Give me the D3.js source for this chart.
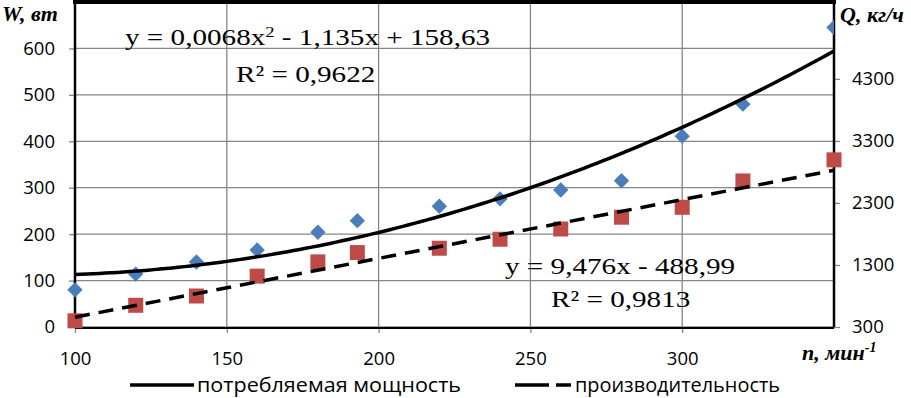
<!DOCTYPE html>
<html>
<head>
<meta charset="utf-8">
<script src="https://cdn.jsdelivr.net/npm/d3@7"></script>
<style>
  html, body { margin: 0; padding: 0; background: #fff; }
  svg { display: block; }
  .tick text { font-family: "Open Sans", "Noto Sans", sans-serif; font-size: 18.5px; fill: #000; }
  .eq { font-family: "Liberation Serif", "DejaVu Serif", serif; font-size: 23.5px; fill: #000; }
  .ttl { font-family: "Liberation Serif", serif; font-size: 22px; font-weight: bold; font-style: italic; fill: #000; }
  .leg { font-family: "Open Sans", "Noto Sans", sans-serif; font-size: 20.5px; fill: #000; }
</style>
</head>
<body>
<div id="chart"></div>
<script>
!(function(){
    "use strict"

    // обороты, мин-1
    var rpm = [100, 120, 140, 160, 180, 193, 220, 240, 260, 280, 300, 320, 350]
    // потребляемая мощность W, вт
    var power = [80, 114, 140, 166, 204, 229, 260, 276, 295, 315, 411, 480, 645]
    // производительность Q, кг/ч
    var output = [400, 650, 800, 1120, 1350, 1500, 1570, 1715, 1880, 2070, 2230, 2655, 2995]

    var xTicks = [100, 150, 200, 250, 300]
    var wTicks = [0, 100, 200, 300, 400, 500, 600]
    var qTicks = [300, 1300, 2300, 3300, 4300]

    // trendline coefficients as printed on the chart
    var polyCoef = [0.0068, -1.135, 158.63]
    var linCoef = [9.476, -488.99]

    var width = 911, height = 398
    var margin = {top: 2, left: 75, bottom: 71, right: 77}
    var chartWidth = width - margin.left - margin.right
    var chartHeight = height - margin.top - margin.bottom

    var svg = d3.select("#chart").append("svg")
        .attr("width", width).attr("height", height)

    var chartLayer = svg.append("g")
        .attr("transform", "translate(" + [margin.left, margin.top] + ")")

    var x = d3.scaleLinear().domain([100, 350]).range([0, chartWidth])
    var yW = d3.scaleLinear().domain([0, 700]).range([chartHeight, 0])
    var yQ = d3.scaleLinear().domain([300, 5540]).range([chartHeight, 0])

    // grid
    chartLayer.append("g")
        .selectAll("line").data(wTicks.concat([700])).enter().append("line")
        .attr("x1", 0).attr("x2", chartWidth)
        .attr("y1", function(d){ return yW(d) }).attr("y2", function(d){ return yW(d) })
        .attr("stroke", "#868686").attr("stroke-width", 1.3)

    chartLayer.append("g")
        .selectAll("line").data(xTicks.slice(1)).enter().append("line")
        .attr("x1", function(d){ return x(d) }).attr("x2", function(d){ return x(d) })
        .attr("y1", 0).attr("y2", chartHeight)
        .attr("stroke", "#868686").attr("stroke-width", 1.3)

    // axes
    var leftAxis = chartLayer.append("g")
        .call(d3.axisLeft(yW).tickValues(wTicks).tickSize(6).tickPadding(14))
    var rightAxis = chartLayer.append("g")
        .attr("transform", "translate(" + chartWidth + ",0)")
        .call(d3.axisRight(yQ).tickValues(qTicks).tickFormat(d3.format("d")).tickSize(6).tickPadding(12))
    var bottomAxis = chartLayer.append("g")
        .attr("transform", "translate(0," + chartHeight + ")")
        .call(d3.axisBottom(x).tickValues(xTicks).tickSize(6).tickPadding(19))

    ;[leftAxis, rightAxis, bottomAxis].forEach(function(a){
        a.select(".domain").remove()
        a.selectAll(".tick line").attr("stroke", "#868686").attr("stroke-width", 1.3)
    })

    // frame lines
    chartLayer.append("line").attr("x1", 0).attr("x2", 0).attr("y1", 0).attr("y2", chartHeight)
        .attr("stroke", "#000").attr("stroke-width", 2.5)
    chartLayer.append("line").attr("x1", chartWidth).attr("x2", chartWidth).attr("y1", 0).attr("y2", chartHeight)
        .attr("stroke", "#000").attr("stroke-width", 2.5)
    chartLayer.append("line").attr("x1", 0).attr("x2", chartWidth).attr("y1", chartHeight + 1).attr("y2", chartHeight + 1)
        .attr("stroke", "#000").attr("stroke-width", 2)
    chartLayer.append("line").attr("x1", -2).attr("x2", chartWidth + 2).attr("y1", 0).attr("y2", 0)
        .attr("stroke", "#000").attr("stroke-width", 4)

    // markers
    svg.append("clipPath").attr("id", "plotClip")
        .append("rect").attr("x", -20).attr("y", -2).attr("width", chartWidth + 20).attr("height", chartHeight + 30)

    chartLayer.append("g").attr("clip-path", "url(#plotClip)")
        .selectAll("path").data(rpm).enter().append("path")
        .attr("d", d3.symbol().type(d3.symbolDiamond2).size(150))
        .attr("transform", function(d, i){ return "translate(" + [x(d), yW(power[i])] + ")" })
        .attr("fill", "#4A7EBB")

    chartLayer.append("g")
        .selectAll("rect").data(rpm).enter().append("rect")
        .attr("x", function(d){ return x(d) - 7.5 })
        .attr("y", function(d, i){ return yQ(output[i]) - 7.5 })
        .attr("width", 15).attr("height", 15)
        .attr("fill", "#BE4B48")

    // trendlines
    var xs = d3.range(100, 351, 2)
    var poly = d3.line()
        .x(function(d){ return x(d) })
        .y(function(d){ return yW(polyCoef[0]*d*d + polyCoef[1]*d + polyCoef[2]) })
    var lin = d3.line()
        .x(function(d){ return x(d) })
        .y(function(d){ return yQ(linCoef[0]*d + linCoef[1]) })

    chartLayer.append("path").datum(xs).attr("d", poly)
        .attr("fill", "none").attr("stroke", "#000").attr("stroke-width", 3.5)
    chartLayer.append("path").datum([100, 350]).attr("d", lin)
        .attr("fill", "none").attr("stroke", "#000").attr("stroke-width", 3.5)
        .attr("stroke-dasharray", "15,9")

    // equations (stretched a little, as in the original picture)
    function eqText(px, py) {
        return svg.append("text").attr("class", "eq")
            .attr("transform", "translate(" + [px, py] + ") scale(1.24,1)")
    }
    var eq1 = eqText(125, 45)
    eq1.append("tspan").text("y = 0,0068x")
    eq1.append("tspan").attr("dy", -8).attr("font-size", 15).text("2")
    eq1.append("tspan").attr("dy", 8).text(" - 1,135x + 158,63")
    eqText(236, 82).text("R² = 0,9622")
    eqText(505, 274).text("y = 9,476x - 488,99")
    eqText(551, 307).text("R² = 0,9813")

    // axis titles
    svg.append("text").attr("class", "ttl").attr("x", 2).attr("y", 21).attr("font-size", 21).text("W, вт")
    svg.append("text").attr("class", "ttl").attr("x", 840).attr("y", 22).text("Q, кг/ч")
    var nt = svg.append("text").attr("class", "ttl").attr("x", 802).attr("y", 360)
    nt.append("tspan").text("n, мин")
    nt.append("tspan").attr("dy", -8).attr("font-size", 14).text("-1")

    // legend
    var legend = svg.append("g").attr("transform", "translate(0,385)")
    legend.append("line").attr("x1", 130).attr("x2", 194).attr("y1", 0).attr("y2", 0)
        .attr("stroke", "#000").attr("stroke-width", 3.5)
    legend.append("text").attr("class", "leg").attr("x", 197).attr("y", 7)
        .attr("textLength", 264).attr("lengthAdjust", "spacingAndGlyphs")
        .text("потребляемая мощность")
    legend.append("line").attr("x1", 515).attr("x2", 571).attr("y1", 0).attr("y2", 0)
        .attr("stroke", "#000").attr("stroke-width", 3.5).attr("stroke-dasharray", "34,7")
    legend.append("text").attr("class", "leg").attr("x", 575).attr("y", 7)
        .attr("textLength", 205).attr("lengthAdjust", "spacingAndGlyphs")
        .text("производительность")
}());
</script>
</body>
</html>
